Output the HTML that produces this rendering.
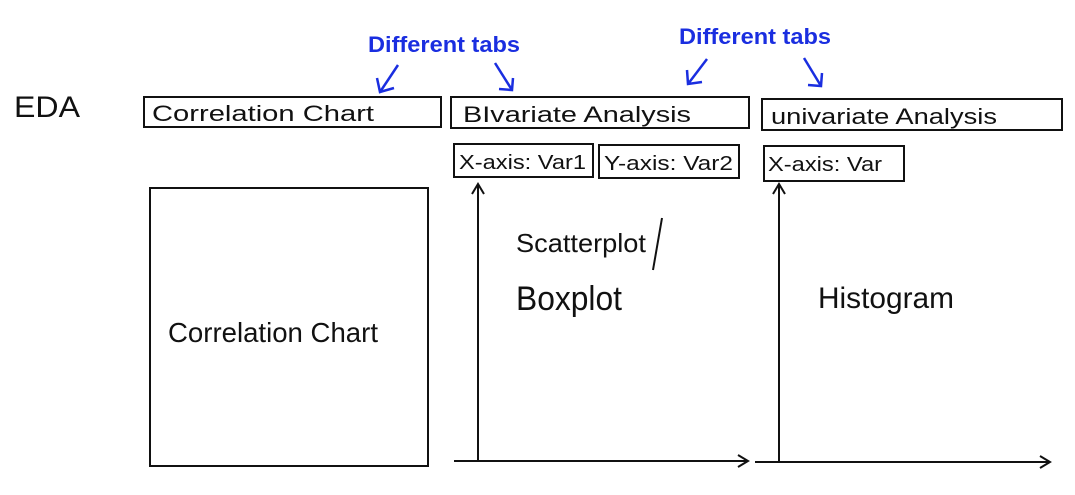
<!DOCTYPE html>
<html><head><style>
html,body{margin:0;padding:0;background:#fff;width:1075px;height:495px;overflow:hidden}
</style></head><body>
<svg width="1075" height="495" xmlns="http://www.w3.org/2000/svg" font-family="Liberation Sans, sans-serif">
<g fill="none" stroke="#111" stroke-width="2">
<rect x="144" y="97" width="297" height="30"/>
<rect x="451" y="97" width="298" height="31"/>
<rect x="762" y="99" width="300" height="31"/>
<rect x="454" y="144" width="139" height="33"/>
<rect x="599" y="145" width="140" height="33"/>
<rect x="764" y="146" width="140" height="35"/>
<rect x="150" y="188" width="278" height="278"/>
<line x1="478" y1="462" x2="478" y2="184"/><polyline points="472,194 478,184 484,194"/>
<line x1="454" y1="461" x2="748" y2="461"/><polyline points="738,455 748,461 738,467"/>
<line x1="779" y1="462" x2="779" y2="184"/><polyline points="773,194 779,184 785,194"/>
<line x1="755" y1="462" x2="1050" y2="462"/><polyline points="1040,456 1050,462 1040,468"/>
<line x1="662" y1="218" x2="653" y2="270"/>
</g>
<g fill="none" stroke="#1a2ee0" stroke-width="2.5">
<line x1="398" y1="65" x2="380" y2="92"/><polyline points="377,78 380,92 394,88"/>
<line x1="495" y1="63" x2="512" y2="90"/><polyline points="499,89 512,90 513,78"/>
<line x1="707" y1="59" x2="688" y2="84"/><polyline points="687,70 688,84 702,82"/>
<line x1="804" y1="58" x2="821" y2="86"/><polyline points="808,85 821,86 822,73"/>
</g>
<g fill="#1a2ee0" font-size="22" font-weight="bold">
<text x="368" y="52" textLength="152" lengthAdjust="spacingAndGlyphs">Different tabs</text>
<text x="679" y="44" textLength="152" lengthAdjust="spacingAndGlyphs">Different tabs</text>
</g>
<g fill="#111" font-size="22">
<text x="14" y="117" font-size="30" textLength="66" lengthAdjust="spacingAndGlyphs">EDA</text>
<text x="152" y="121" textLength="222" lengthAdjust="spacingAndGlyphs">Correlation Chart</text>
<text x="463" y="122" textLength="228" lengthAdjust="spacingAndGlyphs">BIvariate Analysis</text>
<text x="771" y="124" textLength="226" lengthAdjust="spacingAndGlyphs">univariate Analysis</text>
<text x="459" y="169" font-size="20" textLength="127" lengthAdjust="spacingAndGlyphs">X-axis: Var1</text>
<text x="604" y="170" font-size="20" textLength="129" lengthAdjust="spacingAndGlyphs">Y-axis: Var2</text>
<text x="768" y="171" font-size="20" textLength="114" lengthAdjust="spacingAndGlyphs">X-axis: Var</text>
<text x="168" y="342" font-size="28" textLength="210" lengthAdjust="spacingAndGlyphs">Correlation Chart</text>
<text x="516" y="252" font-size="26" textLength="130" lengthAdjust="spacingAndGlyphs">Scatterplot</text>
<text x="516" y="310" font-size="34" textLength="106" lengthAdjust="spacingAndGlyphs">Boxplot</text>
<text x="818" y="308" font-size="30" textLength="136" lengthAdjust="spacingAndGlyphs">Histogram</text>
</g>
</svg>
</body></html>
